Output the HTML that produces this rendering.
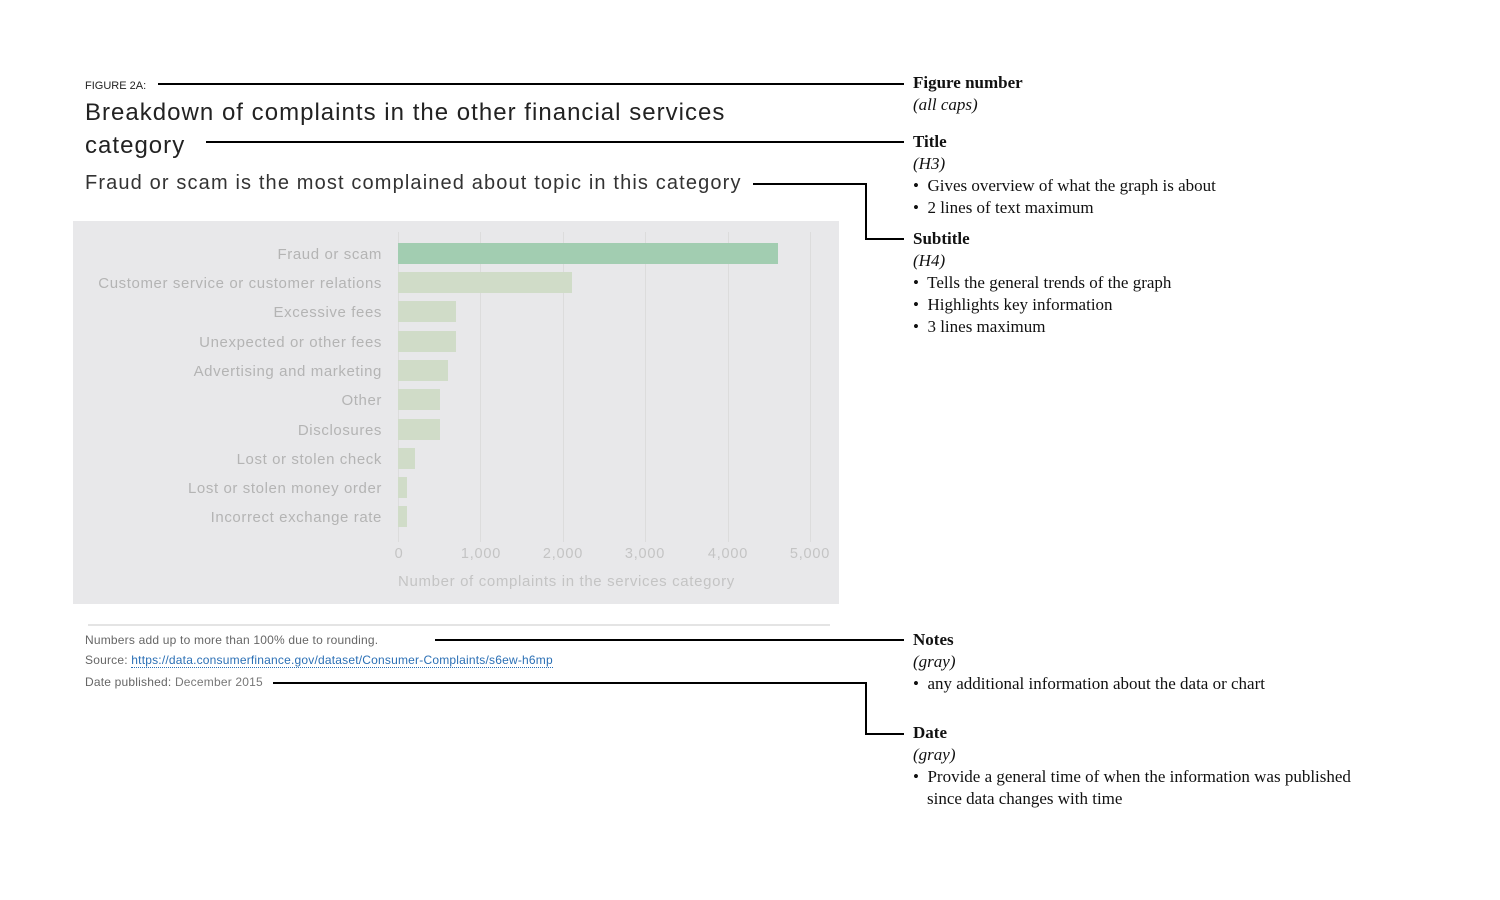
<!DOCTYPE html>
<html><head><meta charset="utf-8"><style>
body{margin:0;width:1500px;height:900px;background:#fff;position:relative;overflow:hidden;font-family:"Liberation Sans",sans-serif}
.a{position:absolute;white-space:nowrap}
.s{font-family:"Liberation Serif",serif;font-size:17px;color:#111}
.lbl{position:absolute;right:1118px;font-size:15px;color:#b4b4b4;white-space:nowrap;letter-spacing:0.6px}
.bar{position:absolute;left:398px;height:21px;background:#d0dcc8}
.grid{position:absolute;top:232px;width:1px;height:310px;background:#dcdcdc}
.tick{position:absolute;top:546px;font-size:14.5px;color:#c4c4c4;transform:translateX(-50%);letter-spacing:0.8px}
.ln{position:absolute;background:#000}
</style></head><body>
<div class="a" style="left:85px;top:80px;font-size:11px;color:#222">FIGURE 2A:</div>
<div class="a" style="left:85px;top:99px;font-size:24px;color:#222;letter-spacing:1.02px">Breakdown of complaints in the other financial services</div>
<div class="a" style="left:85px;top:132px;font-size:24px;color:#222;letter-spacing:1.02px">category</div>
<div class="a" style="left:85px;top:172px;font-size:20px;color:#333;letter-spacing:1.14px">Fraud or scam is the most complained about topic in this category</div>

<div style="position:absolute;left:73px;top:221px;width:766px;height:383px;background:#e8e8ea"></div>
<div class="grid" style="left:398px"></div><div class="grid" style="left:480px"></div><div class="grid" style="left:563px"></div><div class="grid" style="left:645px"></div><div class="grid" style="left:728px"></div><div class="grid" style="left:810px"></div>
<div class="bar" style="top:243px;width:380px;background:#a2cdb1"></div>
<div class="bar" style="top:272px;width:174px"></div>
<div class="bar" style="top:301px;width:58px"></div>
<div class="bar" style="top:331px;width:58px"></div>
<div class="bar" style="top:360px;width:50px"></div>
<div class="bar" style="top:389px;width:42px"></div>
<div class="bar" style="top:419px;width:42px"></div>
<div class="bar" style="top:448px;width:17px"></div>
<div class="bar" style="top:477px;width:9px"></div>
<div class="bar" style="top:506px;width:9px"></div>
<div class="lbl" style="top:246px">Fraud or scam</div>
<div class="lbl" style="top:275px">Customer service or customer relations</div>
<div class="lbl" style="top:304px">Excessive fees</div>
<div class="lbl" style="top:334px">Unexpected or other fees</div>
<div class="lbl" style="top:363px">Advertising and marketing</div>
<div class="lbl" style="top:392px">Other</div>
<div class="lbl" style="top:422px">Disclosures</div>
<div class="lbl" style="top:451px">Lost or stolen check</div>
<div class="lbl" style="top:480px">Lost or stolen money order</div>
<div class="lbl" style="top:509px">Incorrect exchange rate</div>
<div class="tick" style="left:399px">0</div><div class="tick" style="left:481px">1,000</div><div class="tick" style="left:563px">2,000</div><div class="tick" style="left:645px">3,000</div><div class="tick" style="left:728px">4,000</div><div class="tick" style="left:810px">5,000</div>
<div class="a" style="left:398px;top:573px;font-size:15px;color:#c4c4c4;letter-spacing:0.65px">Number of complaints in the services category</div>

<div style="position:absolute;left:88px;top:624px;width:742px;height:2px;background:#e4e4e4"></div>
<div class="a" style="left:85px;top:633px;font-size:12px;color:#666;letter-spacing:0.2px">Numbers add up to more than 100% due to rounding.</div>
<div class="a" style="left:85px;top:653px;font-size:12px;color:#666;letter-spacing:0.2px">Source: <span style="color:#2a6fb5;border-bottom:1px dotted #2a6fb5">https://data.consumerfinance.gov/dataset/Consumer-Complaints/s6ew-h6mp</span></div>
<div class="a" style="left:85px;top:675px;font-size:12px;color:#666;letter-spacing:0.2px">Date published: <span style="color:#777">December 2015</span></div>

<div class="ln" style="left:158px;top:83px;width:746px;height:2px"></div>
<div class="ln" style="left:206px;top:141px;width:698px;height:2px"></div>
<div class="ln" style="left:753px;top:183px;width:114px;height:2px"></div>
<div class="ln" style="left:865px;top:183px;width:2px;height:57px"></div>
<div class="ln" style="left:865px;top:238px;width:39px;height:2px"></div>
<div class="ln" style="left:435px;top:639px;width:469px;height:2px"></div>
<div class="ln" style="left:273px;top:682px;width:594px;height:2px"></div>
<div class="ln" style="left:865px;top:682px;width:2px;height:53px"></div>
<div class="ln" style="left:865px;top:733px;width:39px;height:2px"></div>

<div class="a s" style="left:913px;top:73px;font-weight:bold">Figure number</div>
<div class="a s" style="left:913px;top:95px;font-style:italic">(all caps)</div>
<div class="a s" style="left:913px;top:132px;font-weight:bold">Title</div>
<div class="a s" style="left:913px;top:154px;font-style:italic">(H3)</div>
<div class="a s" style="left:913px;top:176px">•&nbsp; Gives overview of what the graph is about</div>
<div class="a s" style="left:913px;top:198px">•&nbsp; 2 lines of text maximum</div>
<div class="a s" style="left:913px;top:229px;font-weight:bold">Subtitle</div>
<div class="a s" style="left:913px;top:251px;font-style:italic">(H4)</div>
<div class="a s" style="left:913px;top:273px">•&nbsp; Tells the general trends of the graph</div>
<div class="a s" style="left:913px;top:295px">•&nbsp; Highlights key information</div>
<div class="a s" style="left:913px;top:317px">•&nbsp; 3 lines maximum</div>
<div class="a s" style="left:913px;top:630px;font-weight:bold">Notes</div>
<div class="a s" style="left:913px;top:652px;font-style:italic">(gray)</div>
<div class="a s" style="left:913px;top:674px">•&nbsp; any additional information about the data or chart</div>
<div class="a s" style="left:913px;top:723px;font-weight:bold">Date</div>
<div class="a s" style="left:913px;top:745px;font-style:italic">(gray)</div>
<div class="a s" style="left:913px;top:767px">•&nbsp; Provide a general time of when the information was published</div>
<div class="a s" style="left:927px;top:789px">since data changes with time</div>
</body></html>
